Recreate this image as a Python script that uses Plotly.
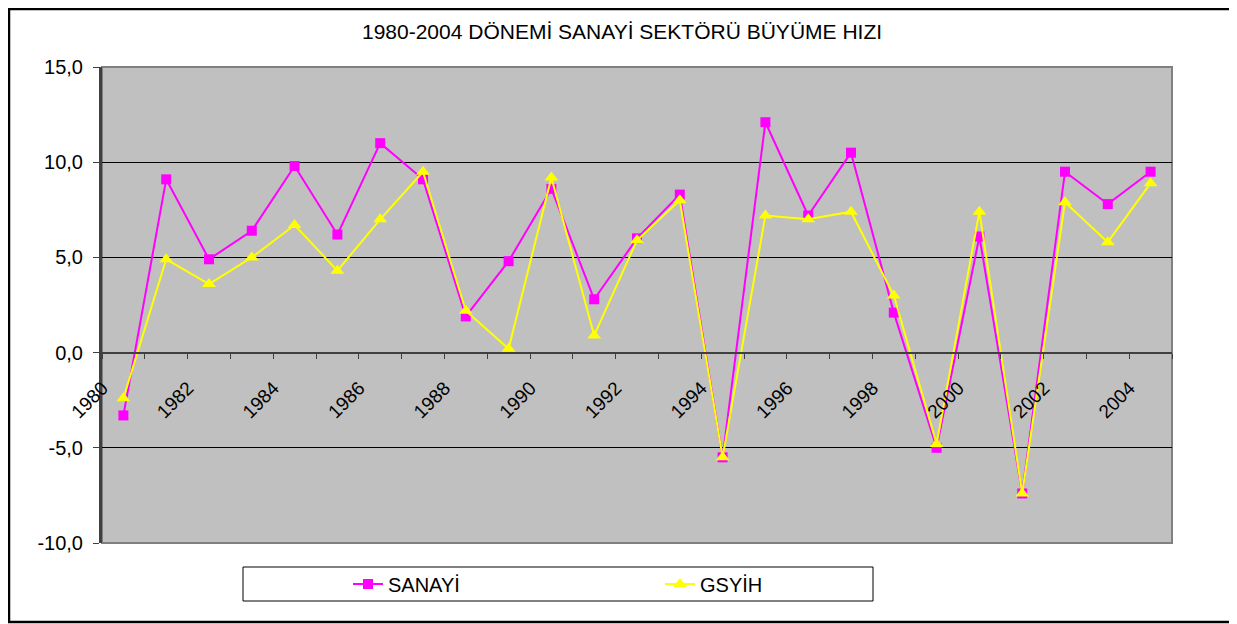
import plotly.graph_objects as go

# yıllar ve büyüme hızları (%)
years = list(range(1980, 2005))
sanayi = [-3.3, 9.1, 4.9, 6.4, 9.8, 6.2, 11.0, 9.1, 1.9, 4.8,
          8.6, 2.8, 6.0, 8.3, -5.5, 12.1, 7.2, 10.5, 2.1, -5.0,
          6.1, -7.4, 9.5, 7.8, 9.5]
gsyih = [-2.4, 4.9, 3.6, 5.0, 6.7, 4.3, 7.0, 9.5, 2.2, 0.2,
         9.2, 0.9, 5.9, 8.0, -5.5, 7.2, 7.0, 7.4, 3.0, -4.8,
         7.4, -7.4, 7.9, 5.8, 8.9]
year_labels = [str(y) for y in years[::2]]
y_ticks = [-10, -5, 0, 5, 10, 15]
y_labels = ["-10,0", "-5,0", "0,0", "5,0", "10,0", "15,0"]

# the page body has an 8px margin, so the figure is shrunk by that much
OFF = 8
W, H = 1237 - OFF, 624 - OFF
L, T = 102 - OFF, 67 - OFF
R, B = W - (1172 - OFF), H - (543 - OFF)
PW, PH = W - L - R, H - T - B


# screen pixel -> paper coordinate
def px_x(px):
    return (px - OFF - L) / PW


def px_y(py):
    return (H - B - (py - OFF)) / PH


FONT = "Liberation Sans, Arial, sans-serif"

fig = go.Figure()
fig.add_trace(go.Scatter(
    x=years, y=sanayi, name="SANAYİ", mode="lines+markers",
    line=dict(color="#FF00FF", width=2),
    marker=dict(symbol="square", size=10, color="#FF00FF"),
))
fig.add_trace(go.Scatter(
    x=years, y=gsyih, name="GSYİH", mode="lines+markers",
    line=dict(color="#FFFF00", width=2),
    marker=dict(symbol="triangle-up", size=12, color="#FFFF00"),
))

fig.update_layout(
    width=W, height=H,
    margin=dict(l=L, r=R, t=T, b=B),
    paper_bgcolor="white",
    plot_bgcolor="#C0C0C0",
    font=dict(family=FONT, color="black"),
    title=dict(
        text="1980-2004 DÖNEMİ SANAYİ SEKTÖRÜ BÜYÜME HIZI",
        x=px_x(622), xref="paper", xanchor="center",
        y=(H - (32 - OFF)) / H, yanchor="middle",
        font=dict(size=21, family=FONT, color="black"),
    ),
    xaxis=dict(
        range=[1979.5, 2004.5],
        tickvals=years[::2], ticktext=year_labels,
        ticks="", showgrid=False, zeroline=False,
        tickangle=-45, tickfont=dict(size=19),
        ticklabelshift=-21, ticklabelstandoff=16,
        showline=True, linecolor="#404040", linewidth=2,
        anchor="free", position=0.4,
        minor=dict(tick0=1979.5, dtick=1, ticks="outside",
                   ticklen=5, tickcolor="#404040", tickwidth=1,
                   showgrid=False),
    ),
    yaxis=dict(
        range=[-10, 15], tickvals=y_ticks, ticktext=y_labels,
        showgrid=True, gridcolor="black", gridwidth=1,
        zeroline=False,
        ticks="outside", ticklen=6, tickcolor="#404040",
        tickfont=dict(size=20), ticklabelstandoff=6,
        showline=True, linecolor="#404040", linewidth=3,
    ),
    showlegend=True,
    legend=dict(
        orientation="h", x=px_x(348), xanchor="left",
        y=px_y(584), yanchor="middle",
        bgcolor="rgba(0,0,0,0)", borderwidth=0,
        font=dict(size=20), entrywidth=267,
    ),
    shapes=[
        # plot area border
        dict(type="rect", xref="paper", yref="paper", x0=0, x1=1, y0=0, y1=1,
             line=dict(color="#808080", width=2), layer="below"),
        # legend box
        dict(type="rect", xref="paper", yref="paper",
             x0=px_x(243), x1=px_x(873), y0=px_y(601), y1=px_y(567),
             line=dict(color="black", width=1), fillcolor="white"),
        # chart border
        dict(type="rect", xref="paper", yref="paper",
             x0=px_x(OFF + 1), x1=px_x(1235), y0=px_y(622), y1=px_y(OFF + 1),
             line=dict(color="black", width=2.5)),
    ],
)

fig.write_html("out.html")
